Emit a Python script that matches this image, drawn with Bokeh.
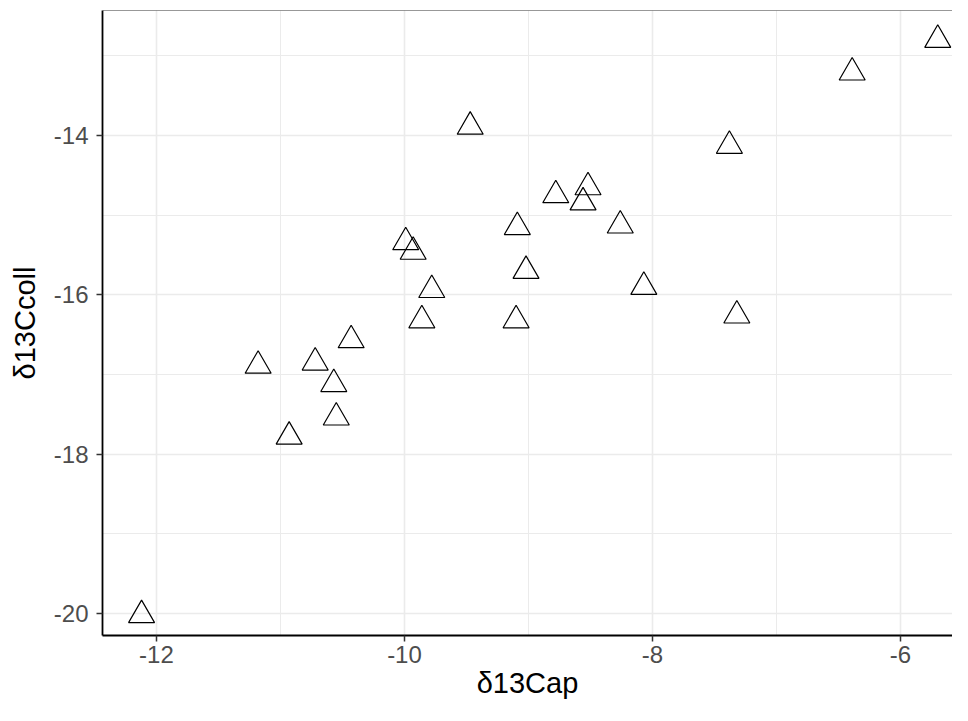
from bokeh.plotting import figure
from bokeh.models import Range1d, SingleIntervalTicker, Span, CustomJSTickFormatter
from bokeh.embed import file_html
from bokeh.resources import INLINE

# Data
d13C_ap = [-12.12, -11.18, -10.93, -10.72, -10.57, -10.55, -10.43, -9.99, -9.93, -9.86,
           -9.78, -9.47, -9.10, -9.09, -9.02, -8.78, -8.56, -8.52, -8.26, -8.07,
           -7.38, -7.32, -6.39, -5.70]
d13C_coll = [-20.02, -16.89, -17.78, -16.85, -17.12, -17.54, -16.57, -15.34, -15.46, -16.32,
             -15.94, -13.89, -16.32, -15.15, -15.70, -14.75, -14.84, -14.65, -15.13, -15.90,
             -14.13, -16.26, -13.21, -12.80]

x_title = "δ13Cap"
y_title = "δ13Ccoll"

X_START, X_END = -12.435, -5.581
Y_START, Y_END = -20.276, -12.432

FONT = "Liberation Sans"

p = figure(width=952, height=705, output_backend="svg", toolbar_location=None,
           x_range=Range1d(X_START, X_END), y_range=Range1d(Y_START, Y_END),
           min_border_left=102, min_border_right=0, min_border_top=10, min_border_bottom=70,
           background_fill_color="white", border_fill_color="white")
p.outline_line_color = None

for ax in (p.xaxis, p.yaxis):
    ax.ticker = SingleIntervalTicker(interval=2, num_minor_ticks=2)
    ax.formatter = CustomJSTickFormatter(code="return tick.toFixed(0);")
    ax.axis_line_color = "black"
    ax.axis_line_width = 1.8
    ax.major_tick_line_color = "#333333"
    ax.major_tick_line_width = 1.5
    ax.major_tick_out = 6
    ax.major_tick_in = 0
    ax.minor_tick_line_color = None
    ax.major_label_text_font = FONT
    ax.major_label_text_font_size = "24px"
    ax.major_label_text_color = "#4D4D4D"
    ax.axis_label_text_font = FONT
    ax.axis_label_text_font_size = "29px"
    ax.axis_label_text_font_style = "normal"
    ax.axis_label_text_color = "black"

p.xaxis.axis_label = x_title
p.yaxis.axis_label = y_title
p.xaxis.major_label_standoff = 4
p.yaxis.major_label_standoff = 8
p.xaxis.axis_label_standoff = 1
p.yaxis.axis_label_standoff = 10

for g in (p.xgrid, p.ygrid):
    g.grid_line_color = "#EBEBEB"
    g.grid_line_width = 1.6
    g.minor_grid_line_color = "#EBEBEB"
    g.minor_grid_line_width = 1.0

top_border = Span(location=Y_END, dimension="width", line_color="#333333", line_width=1.2)
p.add_layout(top_border)

p.scatter(d13C_ap, d13C_coll, marker="triangle", size=26,
          fill_color=None, line_color="black", line_width=1.2)

open("out.html", "w").write(file_html(p, INLINE))
